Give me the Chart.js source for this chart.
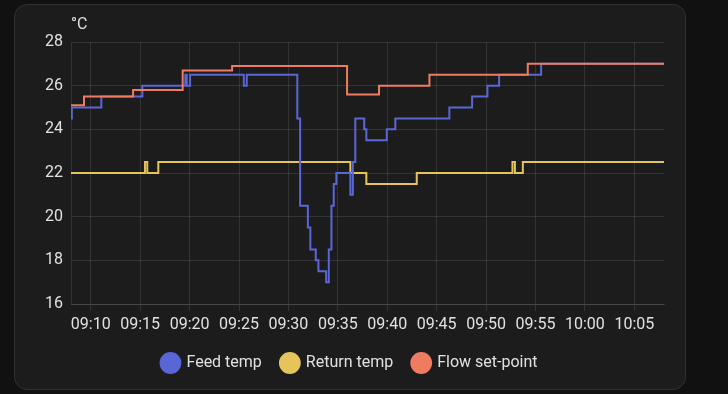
<!DOCTYPE html>
<html>
<head>
<meta charset="utf-8">
<script src="https://cdn.jsdelivr.net/npm/chart.js@4.4.1/dist/chart.umd.min.js"></script>
<style>
    html, body {
        margin: 0;
        padding: 0;
        background: #111111;
        width: 728px;
        height: 394px;
        overflow: hidden;
    }
    .card {
        position: absolute;
        left: 14px;
        top: 4px;
        width: 670px;
        height: 384px;
        background: #1c1c1c;
        border: 1px solid #303030;
        border-radius: 13px;
    }
    #chart {
        position: absolute;
        left: 0;
        top: 0;
    }
</style>
</head>
<body>
<div class="card"></div>
<canvas id="chart" width="728" height="394"></canvas>
<script>
// Feed temp (step changes, value holds until next time)
const feedTimes = ['09:07:50', '09:08:05', '09:11:04', '09:15:13', '09:19:34', '09:19:43', '09:20:03',
    '09:25:29', '09:25:47', '09:30:54', '09:31:11', '09:31:58', '09:32:13', '09:32:46', '09:33:02',
    '09:33:49', '09:34:05', '09:34:21', '09:34:35', '09:34:51', '09:36:16', '09:36:31', '09:36:46',
    '09:37:40', '09:37:53', '09:39:57', '09:40:49', '09:46:17', '09:48:35', '09:50:08', '09:51:19',
    '09:55:34', '10:08:00'];
const feedValues = [24.5, 25, 25.5, 26, 26.5, 26, 26.5,
    26, 26.5, 24.5, 20.5, 19.5, 18.5, 18, 17.5,
    17, 18.5, 20.5, 21.5, 22, 21, 22.5, 24.5,
    24, 23.5, 24, 24.5, 25, 25.5, 26, 26.5,
    27, 27];

// Return temp
const returnTimes = ['09:07:50', '09:15:29', '09:15:43', '09:16:50', '09:36:16', '09:37:53',
    '09:42:59', '09:52:40', '09:52:55', '09:53:43', '10:08:00'];
const returnValues = [22, 22.5, 22, 22.5, 22, 21.5, 22, 22.5, 22, 22.5, 22.5];

// Flow set-point
const setpointTimes = ['09:07:50', '09:09:19', '09:14:17', '09:19:18', '09:24:18', '09:35:56',
    '09:39:10', '09:44:16', '09:54:13', '10:08:00'];
const setpointValues = [25.1, 25.5, 25.8, 26.7, 26.9, 25.6, 26, 26.5, 27, 27];

// Axis labels
const xTickLabels = ['09:10', '09:15', '09:20', '09:25', '09:30', '09:35', '09:40',
    '09:45', '09:50', '09:55', '10:00', '10:05'];
const xStart = '09:08';
const xEnd = '10:08';
const yMin = 16;
const yMax = 28;
const yStep = 2;
const unit = '°C';

const seriesNames = ['Feed temp', 'Return temp', 'Flow set-point'];
const seriesColors = ['#5b66d6', '#e7c35c', '#ef7c60'];

// minutes since midnight from "HH:MM" or "HH:MM:SS"
function toMinutes(t) {
    const p = t.split(':').map(Number);
    return p[0] * 60 + p[1] + (p[2] || 0) / 60;
}

function formatTime(m) {
    const h = Math.floor(m / 60);
    const mm = Math.round(m - h * 60);
    return String(h).padStart(2, '0') + ':' + String(mm).padStart(2, '0');
}

function toPoints(times, values) {
    return times.map((t, i) => ({ x: toMinutes(t), y: values[i] }));
}

const textColor = '#e1e1e1';
const gridColor = 'rgba(255, 255, 255, 0.1)';
Chart.defaults.font.family = 'Roboto, "Noto Sans", sans-serif';
Chart.defaults.font.size = 16;
Chart.defaults.color = textColor;

// draws the unit above the y axis
const unitLabel = {
    id: 'unitLabel',
    afterDraw(chart) {
        const ctx = chart.ctx;
        ctx.save();
        ctx.font = '16px Roboto';
        ctx.fillStyle = textColor;
        ctx.textBaseline = 'middle';
        ctx.textAlign = 'left';
        ctx.fillText(unit, chart.chartArea.left, chart.chartArea.top - 17);
        ctx.restore();
    }
};

function makeDataset(i, times, values, order) {
    return {
        label: seriesNames[i],
        data: toPoints(times, values),
        borderColor: seriesColors[i],
        backgroundColor: seriesColors[i],
        borderWidth: 2,
        pointRadius: 0,
        stepped: 'before',
        tension: 0,
        order: order
    };
}

const ctx = document.getElementById('chart').getContext('2d');
new Chart(ctx, {
    type: 'line',
    data: {
        datasets: [
            makeDataset(0, feedTimes, feedValues, 1),
            makeDataset(1, returnTimes, returnValues, 2),
            makeDataset(2, setpointTimes, setpointValues, 0)
        ]
    },
    options: {
        responsive: false,
        animation: false,
        devicePixelRatio: 1,
        layout: {
            padding: { left: 0, right: 28, top: 42, bottom: 13 }
        },
        scales: {
            x: {
                type: 'linear',
                min: toMinutes(xStart),
                max: toMinutes(xEnd),
                afterBuildTicks: function(scale) {
                    scale.ticks = xTickLabels.map(t => ({ value: toMinutes(t) }));
                },
                afterFit: function(scale) {
                    scale.height = 31;
                },
                ticks: {
                    color: textColor,
                    padding: 4,
                    maxRotation: 0,
                    autoSkip: false,
                    callback: function(value) {
                        return formatTime(value);
                    }
                },
                grid: {
                    color: gridColor,
                    tickLength: 7
                },
                border: {
                    color: gridColor
                }
            },
            y: {
                min: yMin,
                max: yMax,
                afterFit: function(scale) {
                    scale.width = 71;
                },
                ticks: {
                    stepSize: yStep,
                    color: textColor,
                    padding: 8
                },
                grid: {
                    color: gridColor,
                    drawTicks: false
                },
                border: {
                    color: gridColor
                }
            },
            // empty right axis, only keeps the plot clear of the card edge
            yRight: {
                position: 'right',
                afterFit: function(scale) {
                    scale.width = 36;
                },
                ticks: { display: false },
                grid: { display: false },
                border: { display: false }
            }
        },
        plugins: {
            legend: {
                position: 'bottom',
                labels: {
                    usePointStyle: true,
                    pointStyle: 'circle',
                    boxHeight: 14,
                    padding: 20,
                    color: textColor,
                    sort: (a, b) => a.datasetIndex - b.datasetIndex
                }
            },
            tooltip: { enabled: false }
        }
    },
    plugins: [unitLabel]
});
</script>
</body>
</html>
